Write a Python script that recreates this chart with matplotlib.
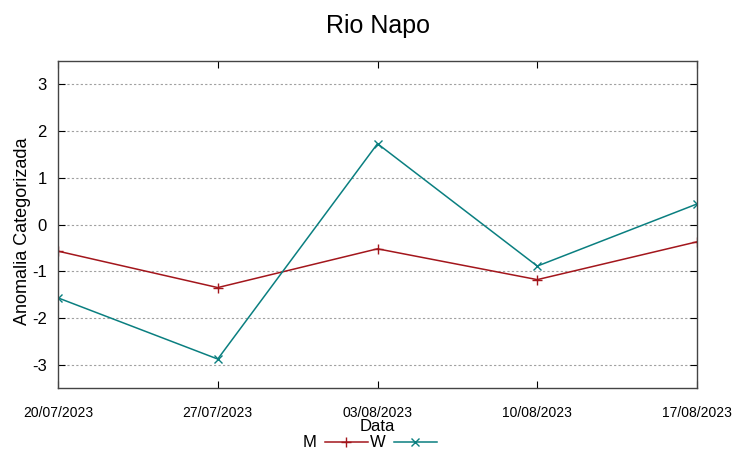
import pandas as pd
import matplotlib
matplotlib.use("Agg")
import matplotlib.pyplot as plt

plt.rcParams["font.family"] = ["Liberation Sans", "DejaVu Sans"]
plt.rcParams["axes.unicode_minus"] = False

datas = ["20/07/2023", "27/07/2023", "03/08/2023", "10/08/2023", "17/08/2023"]
serie_m = [-0.57, -1.35, -0.52, -1.18, -0.37]
serie_w = [-1.57, -2.88, 1.73, -0.89, 0.44]

x = pd.to_datetime(datas, format="%d/%m/%Y")

fig = plt.figure(figsize=(7.52, 4.58), dpi=100)
ax = fig.add_axes([0.0771, 0.1528, 0.8498, 0.714])

ax.plot(x, serie_m, color="#a3161c", lw=1.1, marker="+", ms=7, mew=1.0, label="M")
ax.plot(x, serie_w, color="#0a7f80", lw=1.1, marker="x", ms=6, mew=1.0, label="W")

ax.set_xlim(x[0], x[-1])
ax.set_ylim(-3.5, 3.5)
ax.set_yticks([-3, -2, -1, 0, 1, 2, 3])
ax.set_xticks(x)
ax.set_xticklabels(datas, fontsize=10)
ax.tick_params(axis="y", labelsize=12, direction="in", right=True, length=5, pad=8)
ax.tick_params(axis="x", direction="in", top=True, length=5, pad=13)

ax.grid(axis="y", color="#a0a0a0", linestyle=(0, (2, 2)), lw=0.8)
for s in ax.spines.values():
    s.set_color("#444444")
    s.set_linewidth(1.0)

ax.set_title("Rio Napo", fontsize=18, pad=20)
ax.set_ylabel("Anomalia Categorizada", fontsize=13, va="center")
ax.yaxis.set_label_coords(-0.056, 0.48)
ax.set_xlabel("Data", fontsize=12, labelpad=-1)

ax.legend(loc="center", bbox_to_anchor=(0.488, -0.168), ncol=2, frameon=False,
          markerfirst=False, fontsize=12, handlelength=2.6, columnspacing=0.1,
          handletextpad=0.5, borderaxespad=0)

fig.savefig("out.png", dpi=100)
